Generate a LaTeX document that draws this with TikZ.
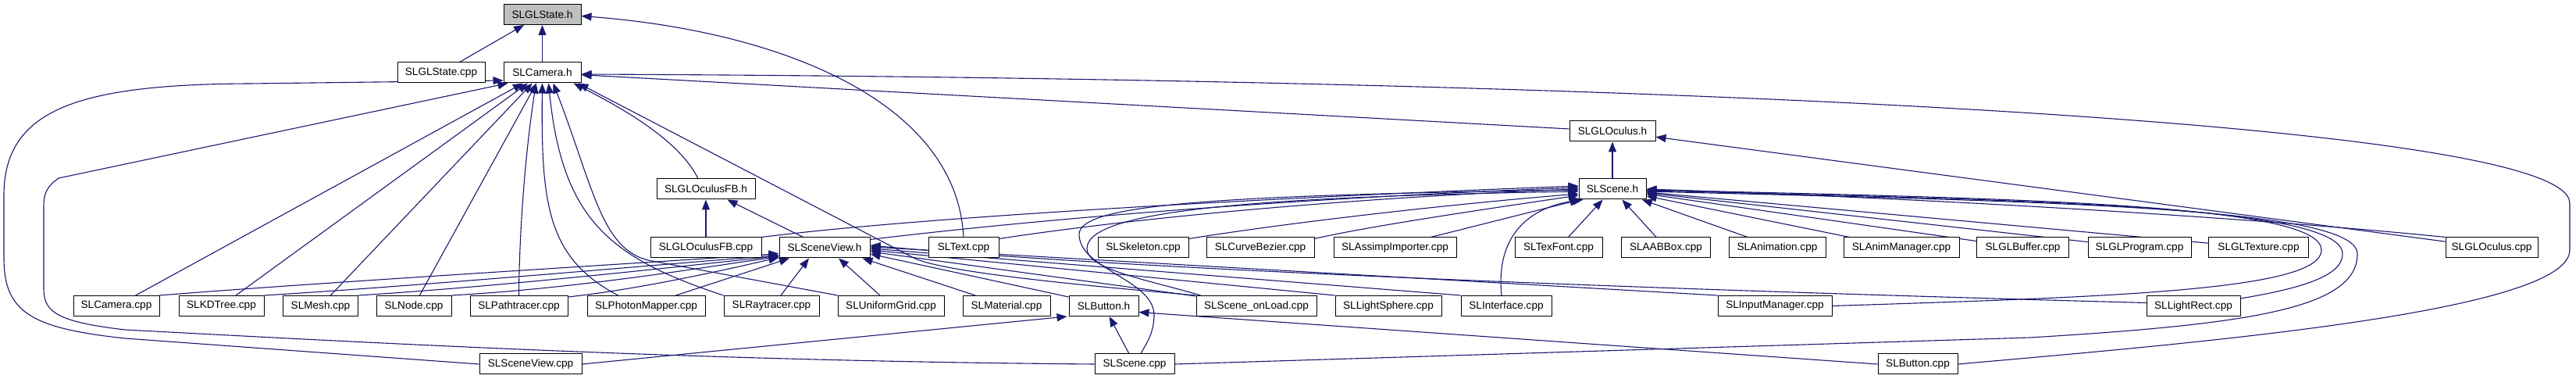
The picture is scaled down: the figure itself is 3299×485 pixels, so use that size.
\documentclass[tikz,border=0pt]{standalone}
\usepackage{fontspec}
\newfontfamily\nodefont{Liberation Sans}
\usetikzlibrary{calc,arrows.meta}
\definecolor{edgecol}{RGB}{25,25,112}
\definecolor{hlgray}{RGB}{191,191,191}
\pgfdeclarelayer{bg}
\pgfsetlayers{bg,main}
\tikzset{
  box/.style={draw=black, line width=0.5pt, fill=white, inner sep=0pt, minimum height=13pt,
    font=\nodefont\fontsize{6.8}{8}\selectfont},
  dep/.style={draw=edgecol, line width=0.55pt, {Triangle[length=6.5pt,width=5pt]}-}
}
\begin{document}
\begin{tikzpicture}[x=0.5pt,y=-0.5pt]
\useasboundingbox (0,0) rectangle (3299,485);
% row 1-4
\node[box, fill=hlgray, minimum width=49.5pt] (glstateh) at (694.5,18.5) {SLGLState.h};
\node[box, minimum width=56pt] (glstatecpp) at (565,93) {SLGLState.cpp};
\node[box, minimum width=49.5pt] (camerah) at (694.5,93) {SLCamera.h};
\node[box, minimum width=55pt] (gloculush) at (2065,168) {SLGLOculus.h};
\node[box, minimum width=63pt] (gloculusfbh) at (904,242) {SLGLOculusFB.h};
\node[box, minimum width=43pt] (sceneh) at (2065,242) {SLScene.h};
% row 5
\node[box, minimum width=71pt] (gloculusfbcpp) at (904,317) {SLGLOculusFB.cpp};
\node[box, minimum width=58pt] (sceneviewh) at (1056,317) {SLSceneView.h};
\node[box, minimum width=45pt] (textcpp) at (1234,317) {SLText.cpp};
\node[box, minimum width=58pt] (skeletoncpp) at (1464,317) {SLSkeleton.cpp};
\node[box, minimum width=69pt] (curvebeziercpp) at (1614,317) {SLCurveBezier.cpp};
\node[box, minimum width=78.5pt] (assimpcpp) at (1786.5,317) {SLAssimpImporter.cpp};
\node[box, minimum width=56pt] (texfontcpp) at (1996,317) {SLTexFont.cpp};
\node[box, minimum width=57pt] (aabboxcpp) at (2133.5,317) {SLAABBox.cpp};
\node[box, minimum width=62pt] (animationcpp) at (2276,317) {SLAnimation.cpp};
\node[box, minimum width=74pt] (animmanagercpp) at (2435,317) {SLAnimManager.cpp};
\node[box, minimum width=59pt] (glbuffercpp) at (2590.5,317) {SLGLBuffer.cpp};
\node[box, minimum width=66pt] (glprogramcpp) at (2740,317) {SLGLProgram.cpp};
\node[box, minimum width=64pt] (gltexturecpp) at (2892.5,317) {SLGLTexture.cpp};
\node[box, minimum width=59pt] (gloculuscpp) at (3191,317) {SLGLOculus.cpp};
% row 6
\node[box, minimum width=55pt] (cameracpp) at (149,391.5) {SLCamera.cpp};
\node[box, minimum width=54.5pt] (kdtreecpp) at (283.5,391.5) {SLKDTree.cpp};
\node[box, minimum width=48pt] (meshcpp) at (410.5,391.5) {SLMesh.cpp};
\node[box, minimum width=48pt] (nodecpp) at (530,391.5) {SLNode.cpp};
\node[box, minimum width=62.5pt] (pathtracercpp) at (664.5,391.5) {SLPathtracer.cpp};
\node[box, minimum width=75.5pt] (photonmappercpp) at (827.5,391.5) {SLPhotonMapper.cpp};
\node[box, minimum width=61pt] (raytracercpp) at (988,391.5) {SLRaytracer.cpp};
\node[box, minimum width=68pt] (uniformgridcpp) at (1141,391.5) {SLUniformGrid.cpp};
\node[box, minimum width=56pt] (materialcpp) at (1289,391.5) {SLMaterial.cpp};
\node[box, minimum width=44.5pt] (buttonh) at (1413.5,391.5) {SLButton.h};
\node[box, minimum width=77pt] (sceneonloadcpp) at (1609,391.5) {SLScene\_onLoad.cpp};
\node[box, minimum width=68pt] (lightspherecpp) at (1778,391.5) {SLLightSphere.cpp};
\node[box, minimum width=58pt] (interfacecpp) at (1929,391.5) {SLInterface.cpp};
\node[box, minimum width=73pt] (inputmanagercpp) at (2273,391.5) {SLInputManager.cpp};
\node[box, minimum width=60pt] (lightrectcpp) at (2809,391.5) {SLLightRect.cpp};
% row 7
\node[box, minimum width=65.5pt] (sceneviewcpp) at (679.5,466) {SLSceneView.cpp};
\node[box, minimum width=51pt] (scenecpp) at (1453,466) {SLScene.cpp};
\node[box, minimum width=51pt] (buttoncpp) at (2456,466) {SLButton.cpp};

\begin{pgfonlayer}{bg}
\fill[white] (0,0) rectangle (3299,485);
% ---- SLGLState.h
\draw[dep] (glstateh) -- (glstatecpp);
\draw[dep] (glstateh) -- (camerah);
\draw[dep] ($(glstateh.east)+(0,2)$) .. controls (1000,40) and (1225,130) .. (textcpp.north);

% ---- SLCamera.h
\draw[dep] (camerah) -- (gloculush);
\draw[dep] ($(camerah.east)+(0,2)$) .. controls (2000,100) and (3291,150) .. (3291,260) -- (3291,320) .. controls (3291,400) and (2800,440) .. (buttoncpp.east);
\draw[dep] ($(camerah.west)+(0,10)$) -- (320,107) .. controls (100,108) and (5,140) .. (5,250) -- (5,330) .. controls (5,400) and (40,420) .. (160,433) -- (sceneviewcpp.west);
\draw[dep] ($(camerah.south west)+(6,0)$) -- (75,228) .. controls (58,240) and (56,250) .. (56,265) -- (56,370) .. controls (56,400) and (75,412) .. (160,422) .. controls (500,440) and (900,462) .. (scenecpp.west);
\draw[dep] (camerah) -- (cameracpp);
\draw[dep] (camerah) -- (kdtreecpp);
\draw[dep] (camerah) -- (meshcpp);
\draw[dep] (camerah) -- (nodecpp);
\draw[dep] ($(camerah.south)+(-8,0)$) .. controls (672,200) and (665,300) .. (pathtracercpp.north);
\draw[dep] (camerah.south) .. controls (693,260) and (700,330) .. ($(photonmappercpp.north)+(-36,0)$);
\draw[dep] ($(camerah.south)+(8,0)$) .. controls (720,280) and (780,330) .. (raytracercpp.north west);
\draw[dep] ($(camerah.south)+(14,0)$) .. controls (760,240) and (770,318) .. (830,333) -- (uniformgridcpp.north west);
\draw[dep] ($(camerah.south east)+(-10,0)$) .. controls (800,140) and (870,180) .. ($(gloculusfbh.north)+(-10,0)$);
\draw[dep] ($(camerah.south east)+(-4,0)$) -- (1170,330) .. controls (1210,350) and (1420,368) .. (sceneonloadcpp.north west);

% ---- SLGLOculus.h
\draw[dep] (gloculush) -- (sceneh);
\draw[dep] (gloculush) -- (gloculuscpp);

% ---- SLGLOculusFB.h
\draw[dep] (gloculusfbh) -- (gloculusfbcpp);
\draw[dep] (gloculusfbh) -- (sceneviewh);

% ---- SLScene.h left side
\draw[dep] ($(sceneh.west)+(0,-4)$) .. controls (1700,250) and (1200,275) .. (gloculusfbcpp.north east);
\draw[dep] ($(sceneh.west)+(0,-2)$) .. controls (1750,250) and (1400,272) .. ($(sceneviewh.north east)+(0,3)$);
\draw[dep] (sceneh.west) .. controls (1800,250) and (1500,272) .. ($(textcpp.north east)+(0,2)$);
\draw[dep] ($(sceneh.west)+(0,1)$) .. controls (1550,250) and (1382,262) .. (1382,300) .. controls (1382,345) and (1480,358) .. (1478,405) .. controls (1477,430) and (1466,442) .. ($(scenecpp.north)+(8,0)$);
\draw[dep] ($(sceneh.west)+(0,3)$) .. controls (1600,252) and (1392,270) .. (1392,318) .. controls (1392,345) and (1470,358) .. ($(sceneonloadcpp.north west)+(6,0)$);
\draw[dep] ($(sceneh.west)+(0,6)$) .. controls (1850,262) and (1650,285) .. ($(skeletoncpp.north east)+(0,2)$);
\draw[dep] ($(sceneh.west)+(0,8)$) .. controls (1900,268) and (1750,290) .. ($(curvebeziercpp.north east)+(0,2)$);
\draw[dep] ($(sceneh.south west)+(2,0)$) -- ($(assimpcpp.north east)+(-33,0)$);
\draw[dep] ($(sceneh.south west)+(6,0)$) .. controls (1960,265) and (1915,300) .. ($(interfacecpp.north)+(-6,0)$);
% bottom
\draw[dep] (sceneh) -- (texfontcpp);
\draw[dep] (sceneh) -- (aabboxcpp);
\draw[dep] (sceneh) -- (animationcpp);
% right side
\draw[dep] (sceneh) -- (animmanagercpp);
\draw[dep] (sceneh) -- (glbuffercpp);
\draw[dep] (sceneh) -- (glprogramcpp);
\draw[dep] (sceneh) -- (gltexturecpp);
\draw[dep] (sceneh.east) .. controls (2500,255) and (2900,280) .. (gloculuscpp.north west);
\draw[dep] ($(sceneh.east)+(0,1)$) .. controls (2600,254) and (2973,262) .. (2973,320) .. controls (2973,372) and (2700,380) .. (inputmanagercpp.east);
\draw[dep] ($(sceneh.east)+(0,2)$) .. controls (2620,256) and (3000,264) .. (3000,325) .. controls (3000,355) and (2940,370) .. ($(lightrectcpp.north east)+(0,4)$);
\draw[dep] ($(sceneh.east)+(0,3)$) .. controls (2640,258) and (3019,266) .. (3019,325) .. controls (3019,395) and (2880,415) .. (2600,432) -- (scenecpp.east);

% ---- SLSceneView.h
\draw[dep] ($(sceneviewh.south west)+(0,-6)$) .. controls (850,335) and (400,362) .. (cameracpp.north east);
\draw[dep] ($(sceneviewh.south west)+(0,-4)$) .. controls (850,338) and (550,365) .. (kdtreecpp.north east);
\draw[dep] ($(sceneviewh.south west)+(0,-3)$) .. controls (880,340) and (650,366) .. (meshcpp.north east);
\draw[dep] ($(sceneviewh.south west)+(0,-2)$) .. controls (900,342) and (750,368) .. (nodecpp.north east);
\draw[dep] ($(sceneviewh.south west)+(0,-1)$) .. controls (930,345) and (820,370) .. ($(pathtracercpp.north east)+(0,2)$);
\draw[dep] ($(sceneviewh.south)+(-45,0)$) -- ($(photonmappercpp.north east)+(-38,0)$);
\draw[dep] ($(sceneviewh.south)+(-20,0)$) -- ($(raytracercpp.north)+(12,0)$);
\draw[dep] ($(sceneviewh.south)+(18,0)$) -- ($(uniformgridcpp.north)+(-14,0)$);
\draw[dep] ($(sceneviewh.south east)+(-10,0)$) -- ($(materialcpp.north)+(-40,0)$);
\draw[dep] ($(sceneviewh.east)+(0,8)$) -- ($(buttonh.north west)+(0,2)$);
\draw[dep] ($(sceneviewh.east)+(0,5)$) -- ($(sceneonloadcpp.north west)+(0,1)$);
\draw[dep] ($(sceneviewh.east)+(0,3)$) -- (lightspherecpp.north west);
\draw[dep] ($(sceneviewh.east)+(0,1)$) -- (interfacecpp.north west);
\draw[dep] ($(sceneviewh.east)+(0,-1)$) -- (inputmanagercpp.north west);
\draw[dep] ($(sceneviewh.east)+(0,-3)$) .. controls (1450,345) and (2100,370) .. ($(lightrectcpp.west)+(0,-4)$);

% ---- SLButton.h
\draw[dep] ($(buttonh.south west)+(-2,0)$) -- (sceneviewcpp.east);
\draw[dep] (buttonh) -- (scenecpp);
\draw[dep] ($(buttonh.east)+(0,8)$) -- (buttoncpp.west);
\end{pgfonlayer}
\end{tikzpicture}
\end{document}
